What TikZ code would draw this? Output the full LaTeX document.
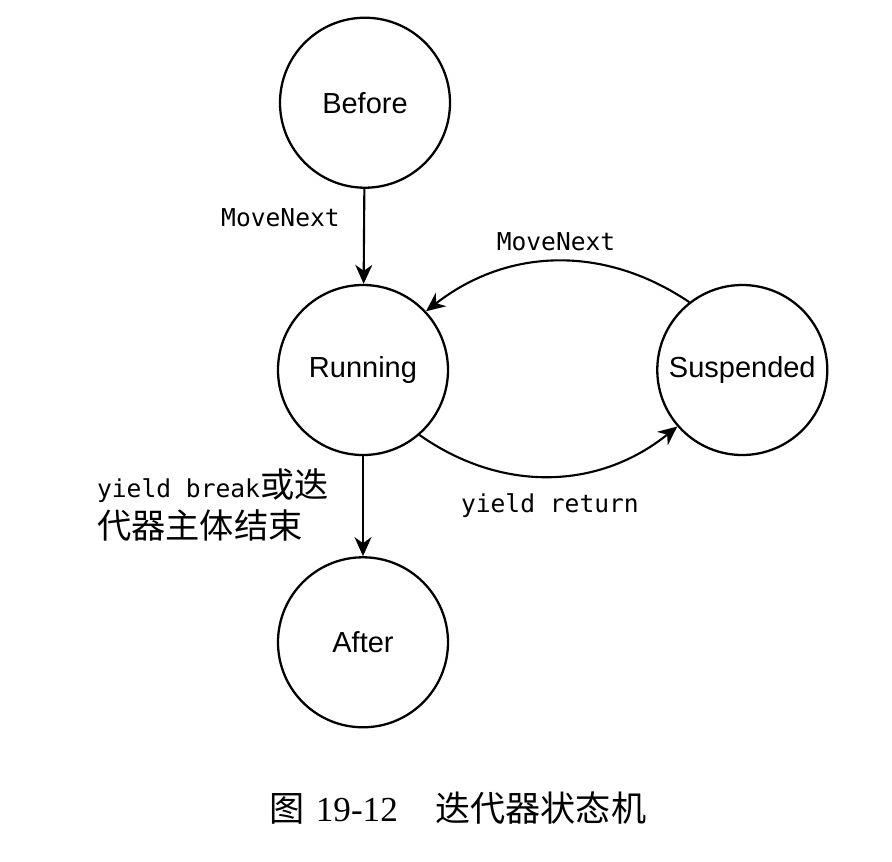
\documentclass[tikz,border=0pt]{standalone}
\usepackage{fontspec}
\usepackage{tikz}
\usetikzlibrary{positioning, arrows.meta}
\setmainfont{Liberation Sans}
\newfontfamily\codefont{DejaVu Sans Mono}
\newfontfamily\cjk{Noto Sans CJK SC}
\newfontfamily\capfont{Liberation Serif}
\newcommand{\zh}[1]{{\cjk\fontsize{19.5pt}{23pt}\selectfont #1}}
\tikzstyle{st}=[%
      circle, draw=black, line width=1.3pt, fill=none,
      minimum size=3.4cm, inner sep=0pt, font=\fontsize{16.5pt}{19pt}\selectfont
]
\tikzstyle{lb}=[%
      font=\codefont\fontsize{14pt}{23pt}\selectfont, text=black
]
\tikzstyle{capt}=[%
      font=\fontsize{20pt}{24pt}\selectfont, inner sep=0pt
]
\begin{document}
\begin{tikzpicture}[auto,
    ->,
    -{Stealth[length=3.8mm,width=3.4mm,inset=1.2mm]},
    line width=1.2pt
  ]
    \useasboundingbox (-7.26,7.40) rectangle (10.58,-9.82);
    \node[st]  (run)                                        {Running};
    \node[st]  (before) [above = 1.9cm of run, xshift=0.04cm] {Before};
    \node[st]  (susp)   [right = 4.14cm of run]               {Suspended};
    \node[st]  (after)  [below = 2cm of run]                  {After};
    \node[capt] (caption) [below = 1.25cm of after, xshift=1.9cm]
          {{\cjk 图}\hspace{0.22cm}{\capfont 19-12}\hspace{0.75cm}{\cjk 迭代器状态机}};

    \path (before) edge node[lb, left=0.35cm, pos=0.3] {MoveNext} (run)
          (susp.128) edge[bend right=36] node[lb, above=2pt] {MoveNext} (run.43)
          (run.-49) edge[bend right=37] node[lb, below=6pt] {yield return} (susp.-139)
          (run) edge node[lb, left=0.55cm, align=left, pos=0.49]
                {yield break\zh{或迭}\\\zh{代器主体结束}} (after)
    ;

  \end{tikzpicture}
\end{document}
